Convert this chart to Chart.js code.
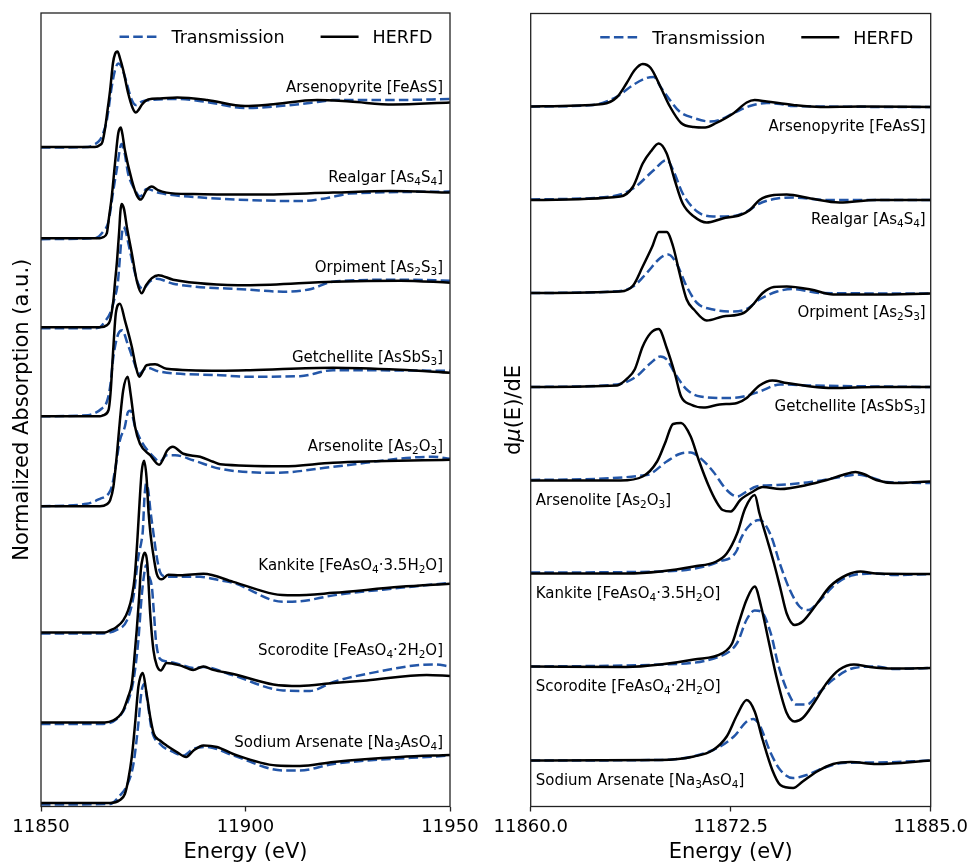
<!DOCTYPE html>
<html><head><meta charset="utf-8">
<script src="https://cdn.jsdelivr.net/npm/chart.js@4/dist/chart.umd.min.js"></script>
<style>
html,body{margin:0;padding:0;background:#fff;overflow:hidden;width:969px;height:865px;}
#left{position:absolute;left:0;top:0;}
#right{position:absolute;left:450px;top:0;}
</style></head><body>
<canvas id="left" width="490" height="865"></canvas>
<canvas id="right" width="530" height="865"></canvas>
<script>
// ---------------- DATA ----------------
const mineralNames = ['Arsenopyrite [FeAsS]','Realgar [As₄S₄]','Orpiment [As₂S₃]','Getchellite [AsSbS₃]','Arsenolite [As₂O₃]','Kankite [FeAsO₄·3.5H₂O]','Scorodite [FeAsO₄·2H₂O]','Sodium Arsenate [Na₃AsO₄]'];
const seriesNames = ['Transmission','HERFD'];
const xanesTicks = [11850, 11900, 11950];
const derivTicks = [11860.0, 11872.5, 11885.0];
// vertical stacking offsets (a.u.)
const xanesOffsets = [13.18, 11.36, 9.58, 7.80, 6.00, 3.48, 1.68, 0.07];
const derivOffsets = [14.00, 12.13, 10.27, 8.39, 6.52, 4.65, 2.79, 0.92];

// Normalized absorption [energy eV, value]
const herfdArsenopyrite = [[11850,0],[11863.2,0],[11864.4,0.04],[11865.0,0.10],[11865.6,0.34],[11866.2,0.70],[11866.9,1.14],[11867.6,1.68],[11868.1,1.86],[11868.7,1.91],[11869.3,1.78],[11870.1,1.54],[11871.3,1.08],[11872.4,0.78],[11873.2,0.69],[11874.0,0.76],[11874.6,0.84],[11876.2,0.95],[11879.1,0.97],[11883.3,0.99],[11890.6,0.94],[11899.9,0.82],[11906,0.85],[11917.5,0.94],[11925.5,0.91],[11936.1,0.85],[11950,0.89]];
const transArsenopyrite = [[11850,-0.01],[11861.5,0],[11862.8,0.04],[11864.4,0.14],[11865.2,0.28],[11866.1,0.54],[11867.3,1.21],[11868.1,1.54],[11868.9,1.67],[11869.6,1.62],[11870.5,1.41],[11872.2,0.94],[11873.2,0.84],[11874.6,0.91],[11876.7,0.94],[11883.3,0.96],[11890.6,0.90],[11899.9,0.78],[11908.4,0.82],[11917.5,0.90],[11921.4,0.94],[11936.1,0.94],[11950,0.96]];
const herfdRealgar = [[11850,0],[11864.4,0],[11865.2,0.02],[11866.1,0.10],[11866.6,0.40],[11867.3,0.83],[11868.1,1.50],[11868.9,2.10],[11869.5,2.21],[11869.9,2.08],[11870.5,1.76],[11872.2,1.16],[11873.4,0.86],[11874.4,0.77],[11875.8,0.96],[11877.1,1.03],[11878.6,0.96],[11880.7,0.91],[11887.2,0.88],[11901.1,0.87],[11921.4,0.91],[11935.3,0.94],[11950,0.91]];
const transRealgar = [[11850,-0.02],[11863.2,0],[11865.2,0.13],[11866.5,0.33],[11867.7,0.96],[11868.5,1.36],[11869.7,1.88],[11870.4,1.72],[11871.3,1.29],[11873.0,0.96],[11874.2,0.83],[11875.8,0.98],[11879.1,0.90],[11891.3,0.80],[11901.1,0.76],[11913.3,0.74],[11919.9,0.80],[11925.5,0.89],[11950,0.93]];
const herfdOrpiment = [[11850,0],[11864.4,0],[11866.1,0.04],[11866.9,0.14],[11867.7,0.54],[11868.1,0.90],[11868.6,1.34],[11869.1,1.90],[11869.4,2.30],[11869.7,2.46],[11870.3,2.36],[11871.0,2.00],[11872.2,1.48],[11873.5,0.90],[11874.6,0.68],[11875.7,0.84],[11877.1,0.98],[11878.7,1.04],[11882.3,0.95],[11901.1,0.84],[11921.4,0.91],[11937.8,0.93],[11950,0.89]];
const transOrpiment = [[11850,-0.02],[11863.2,-0.02],[11864.4,0],[11865.6,0.11],[11866.9,0.28],[11867.9,0.55],[11868.8,0.90],[11869.3,1.40],[11869.7,1.80],[11870.1,2.00],[11870.6,1.95],[11871.3,1.70],[11872.6,1.21],[11873.7,0.88],[11874.9,0.77],[11876.7,0.92],[11878.3,0.97],[11882.3,0.87],[11901.1,0.75],[11909.2,0.71],[11915.8,0.76],[11921.4,0.91],[11937.8,0.95],[11950,0.93]];
const herfdGetchellite = [[11850,0],[11864.4,0],[11865.2,0.02],[11866.5,0.12],[11867.0,0.46],[11867.7,1.39],[11868.3,2.06],[11869.3,2.25],[11870.5,1.92],[11872.2,1.39],[11873.2,0.99],[11874.0,0.79],[11874.9,0.90],[11875.8,1.02],[11877.9,1.04],[11880.7,0.95],[11893.8,0.91],[11901.1,0.92],[11921.4,0.97],[11937.8,0.93],[11950,0.87]];
const transGetchellite = [[11850,0],[11861.5,0.02],[11862.8,0.05],[11864.8,0.15],[11866.1,0.29],[11866.9,0.59],[11867.7,1.19],[11868.9,1.65],[11869.9,1.72],[11871.0,1.49],[11872.6,1.12],[11874.0,0.85],[11875.8,0.97],[11879.1,0.89],[11893.8,0.82],[11901.1,0.79],[11913.3,0.80],[11921.4,0.92],[11950,0.91]];
const herfdArsenolite = [[11850,0],[11864.4,0],[11866.1,0.04],[11866.9,0.12],[11867.7,0.39],[11868.5,0.99],[11869.3,1.72],[11870.1,2.32],[11871.2,2.59],[11871.9,2.25],[11873.0,1.59],[11874.2,1.25],[11876.7,1.02],[11878.9,0.83],[11880.9,1.12],[11882.2,1.19],[11884.8,1.05],[11888.9,0.99],[11892.1,0.89],[11893.8,0.84],[11909.2,0.80],[11921.4,0.87],[11950,0.93]];
const transArsenolite = [[11850,0],[11861.2,0.05],[11864.4,0.15],[11866.5,0.25],[11867.3,0.39],[11868.1,0.72],[11869.3,1.32],[11870.5,1.59],[11871.3,1.89],[11871.9,1.91],[11873.0,1.59],[11874.6,1.29],[11877.5,0.99],[11879.1,0.89],[11880.7,1.02],[11882.8,1.02],[11887.2,0.92],[11893.8,0.75],[11907.6,0.67],[11921.4,0.79],[11945.8,0.99],[11950,0.95]];
const herfdKankite = [[11850,0],[11865.6,0],[11866.9,0.04],[11868.5,0.11],[11870.1,0.24],[11871.3,0.44],[11872.2,0.71],[11872.9,1.10],[11873.6,1.90],[11874.1,2.60],[11874.6,3.20],[11875.2,3.43],[11875.8,3.10],[11876.3,2.40],[11876.8,1.95],[11877.3,1.64],[11878.3,1.17],[11879.5,1.06],[11881.1,1.15],[11884.0,1.14],[11889.7,1.17],[11897.0,1.01],[11906.8,0.77],[11911.7,0.74],[11921.5,0.79],[11937.8,0.91],[11950,0.97]];
const transKankite = [[11850,-0.02],[11864.4,-0.02],[11868.5,0.05],[11871.0,0.24],[11872.6,0.71],[11873.8,1.51],[11874.6,1.84],[11874.9,2.04],[11875.3,2.70],[11875.7,2.97],[11876.2,2.85],[11876.8,2.40],[11877.4,2.04],[11878.3,1.51],[11879.1,1.21],[11880.3,1.12],[11882.3,1.11],[11888.9,1.11],[11893.8,1.04],[11897.0,0.99],[11909.2,0.61],[11913.3,0.62],[11921.5,0.74],[11937.8,0.89],[11950,0.99]];
const herfdScorodite = [[11850,0],[11865.6,0],[11867.7,0.04],[11868.9,0.11],[11870.1,0.24],[11871.3,0.51],[11872.2,0.77],[11872.7,1.17],[11873.4,1.84],[11874.0,2.51],[11874.4,3.04],[11874.9,3.30],[11875.4,3.39],[11876.0,3.17],[11876.7,2.17],[11877.5,1.44],[11878.3,1.14],[11879.3,1.04],[11880.7,1.19],[11884.0,1.14],[11887.2,1.05],[11889.7,1.12],[11892.1,1.05],[11897.0,0.97],[11906.8,0.76],[11913.3,0.73],[11921.5,0.79],[11929.6,0.84],[11944.3,0.95],[11950,0.93]];
const transScorodite = [[11850,-0.03],[11864.4,-0.03],[11868.5,0.07],[11871.0,0.37],[11872.6,0.84],[11873.8,1.64],[11874.6,2.51],[11875.2,2.95],[11875.7,3.14],[11876.3,2.95],[11877.1,2.71],[11877.6,2.20],[11878.1,1.64],[11879.1,1.27],[11880.7,1.22],[11884.0,1.16],[11887.2,1.09],[11889.7,1.11],[11897.0,0.94],[11909.2,0.64],[11915.8,0.63],[11921.5,0.81],[11929.6,0.97],[11945.9,1.16],[11950,1.12]];
const herfdSodiumArsenate = [[11850,0],[11866.9,0],[11869.3,0.06],[11870.5,0.18],[11871.3,0.45],[11872.2,0.92],[11873.0,1.58],[11873.8,2.32],[11874.3,2.52],[11874.9,2.60],[11875.7,2.25],[11876.7,1.72],[11877.6,1.38],[11879.1,1.25],[11880.7,1.15],[11883.0,1.03],[11885.5,0.92],[11887.3,1.05],[11889.7,1.15],[11893.0,1.12],[11897.0,0.98],[11907.6,0.75],[11913.3,0.74],[11921.5,0.82],[11937.8,0.92],[11950,0.96]];
const transSodiumArsenate = [[11850,-0.03],[11866.9,-0.02],[11869.3,0.15],[11871.0,0.35],[11872.6,0.78],[11873.8,1.58],[11874.5,2.18],[11875.2,2.38],[11876.0,2.05],[11877.1,1.45],[11879.1,1.18],[11882.3,1.02],[11884.8,0.95],[11887.2,1.08],[11890.5,1.12],[11897.0,0.95],[11909.2,0.65],[11913.3,0.65],[11921.5,0.78],[11950,0.95]];

// First derivative dmu/dE [energy eV, value]
const dHerfdArsenopyrite = [[11860,0],[11864.5,0.05],[11865.4,0.19],[11866.0,0.47],[11866.5,0.73],[11867.0,0.85],[11867.5,0.77],[11868.1,0.40],[11868.7,0],[11869.4,-0.33],[11870.2,-0.41],[11870.9,-0.42],[11871.6,-0.33],[11872.7,-0.13],[11873.5,0.08],[11874.0,0.13],[11874.75,0.10],[11876.4,0.03],[11878.1,-0.01],[11880.6,0],[11885,-0.01]];
const dTransArsenopyrite = [[11860,0],[11863.9,0.03],[11865.4,0.20],[11866.4,0.43],[11867.25,0.57],[11867.7,0.59],[11868.1,0.40],[11868.7,0.13],[11869.3,-0.10],[11870.2,-0.23],[11871.2,-0.30],[11871.8,-0.27],[11872.7,-0.13],[11873.7,0.01],[11874.75,0.07],[11875.6,0.05],[11876.4,0.01],[11885,-0.01]];
const dHerfdRealgar = [[11860,0],[11865.6,0.07],[11866.4,0.27],[11867.0,0.73],[11867.5,0.97],[11868.0,1.13],[11868.5,0.93],[11869.0,0.40],[11869.5,-0.07],[11870.2,-0.33],[11871.0,-0.45],[11872.0,-0.37],[11873.1,-0.30],[11873.7,-0.20],[11874.3,0],[11875.2,0.10],[11876.0,0.11],[11877.5,0.03],[11879.3,-0.05],[11881.6,0],[11885,0]];
const dTransRealgar = [[11860,0.01],[11865.0,0.07],[11866.4,0.23],[11867.7,0.60],[11868.5,0.80],[11868.9,0.60],[11869.5,0.13],[11870.4,-0.23],[11871.4,-0.33],[11872.7,-0.32],[11873.5,-0.23],[11874.3,-0.07],[11875.4,0.03],[11876.4,0.05],[11878.5,0],[11885,0]];
const dHerfdOrpiment = [[11860,0],[11865.6,0.03],[11866.4,0.15],[11867.0,0.53],[11867.6,0.93],[11868.0,1.22],[11868.5,1.22],[11868.9,0.93],[11869.3,0.40],[11869.75,-0.13],[11870.2,-0.33],[11871.0,-0.55],[11872.0,-0.47],[11873.3,-0.40],[11873.9,-0.23],[11874.5,0],[11875.2,0.12],[11876.0,0.13],[11877.5,0.07],[11878.9,-0.03],[11881.6,-0.03],[11885,-0.01]];
const dTransOrpiment = [[11860,0],[11865.2,0.03],[11866.4,0.13],[11867.25,0.40],[11868.1,0.70],[11868.6,0.77],[11869.1,0.60],[11869.75,0.13],[11870.4,-0.20],[11871.4,-0.33],[11872.7,-0.37],[11873.5,-0.32],[11874.3,-0.13],[11875.4,0.03],[11876.4,0.08],[11878.1,0],[11885,-0.01]];
const dHerfdGetchellite = [[11860,0],[11865.4,0.03],[11866.0,0.16],[11866.5,0.35],[11867.0,0.81],[11867.5,1.08],[11868.0,1.16],[11868.5,0.78],[11869.0,0.28],[11869.4,-0.19],[11870.0,-0.35],[11870.8,-0.41],[11871.8,-0.35],[11872.9,-0.32],[11873.5,-0.22],[11874.3,0.03],[11875.1,0.13],[11876.0,0.08],[11877.5,0.01],[11878.9,-0.02],[11881.6,0],[11885,0]];
const dTransGetchellite = [[11860,0],[11865.4,0.05],[11866.6,0.21],[11867.5,0.48],[11868.1,0.61],[11868.5,0.55],[11869.0,0.28],[11869.75,-0.05],[11870.6,-0.19],[11872.25,-0.22],[11873.3,-0.19],[11874.3,-0.09],[11875.6,0.05],[11877.5,0.03],[11885,0]];
const dHerfdArsenolite = [[11860,0],[11865.6,0],[11867.0,0.08],[11867.9,0.38],[11868.4,0.75],[11868.9,1.13],[11869.4,1.15],[11870.0,0.88],[11870.5,0.41],[11871.1,-0.09],[11871.6,-0.42],[11872.0,-0.59],[11872.5,-0.62],[11873.1,-0.39],[11873.9,-0.22],[11874.5,-0.13],[11875.6,-0.17],[11877.25,-0.09],[11878.5,0.01],[11879.5,0.11],[11880.3,0.17],[11880.8,0.13],[11881.6,0.01],[11882.7,-0.05],[11883.7,-0.04],[11885,-0.02]];
const dTransArsenolite = [[11860,0.01],[11867.25,0.11],[11868.5,0.38],[11869.3,0.53],[11870.0,0.56],[11870.6,0.45],[11871.4,0.18],[11872.25,-0.19],[11872.9,-0.32],[11873.5,-0.22],[11874.1,-0.12],[11875.4,-0.09],[11877.5,-0.03],[11879.5,0.08],[11880.4,0.12],[11881.2,0.07],[11882.25,-0.03],[11885,-0.05]];
const dHerfdKankite = [[11860,0.01],[11866.0,0.01],[11868.1,0.05],[11870.2,0.15],[11871.6,0.25],[11872.25,0.41],[11872.9,0.81],[11873.4,1.31],[11874.0,1.58],[11874.3,1.21],[11874.75,0.72],[11875.2,0.22],[11875.6,-0.28],[11876.0,-0.79],[11876.5,-1.02],[11877.0,-0.95],[11877.9,-0.59],[11878.7,-0.25],[11879.75,-0.02],[11880.6,0.05],[11881.6,0.01],[11885,0]];
const dTransKankite = [[11860,0.03],[11868.1,0.05],[11871.8,0.25],[11872.9,0.48],[11873.1,0.68],[11873.7,0.98],[11874.3,1.08],[11875.0,0.78],[11875.6,0.18],[11876.2,-0.32],[11876.8,-0.65],[11877.35,-0.72],[11878.1,-0.52],[11879.1,-0.19],[11880.2,-0.02],[11881.6,0.01],[11882.7,-0.02],[11885,0]];
const dHerfdScorodite = [[11860,0.01],[11866.0,0],[11868.1,0.05],[11870.2,0.15],[11872.0,0.28],[11872.6,0.48],[11873.0,0.88],[11873.5,1.35],[11874.0,1.61],[11874.4,1.21],[11874.85,0.55],[11875.4,-0.25],[11876.0,-0.92],[11876.5,-1.09],[11877.0,-1.02],[11877.7,-0.72],[11878.5,-0.32],[11879.3,-0.05],[11880.2,0.05],[11881.2,0],[11882.7,-0.03],[11885,-0.02]];
const dTransScorodite = [[11860,0.01],[11868.1,0.05],[11871.8,0.21],[11872.9,0.48],[11873.5,0.95],[11874.0,1.13],[11874.4,1.11],[11875.0,0.68],[11875.5,0.01],[11876.1,-0.52],[11876.6,-0.75],[11877.25,-0.75],[11878.1,-0.49],[11878.9,-0.25],[11880.2,-0.02],[11881.6,0.01],[11882.7,-0.04],[11885,-0.02]];
const dHerfdSodiumArsenate = [[11860,0],[11868.1,0.01],[11870.2,0.08],[11871.4,0.21],[11872.25,0.48],[11872.9,0.91],[11873.5,1.21],[11874.0,0.98],[11874.5,0.41],[11875.1,-0.19],[11875.6,-0.49],[11876.4,-0.55],[11877.0,-0.42],[11877.9,-0.22],[11878.9,-0.07],[11880.0,-0.03],[11881.6,-0.07],[11885,0]];
const dTransSodiumArsenate = [[11860,0],[11868.1,0.01],[11871.4,0.21],[11872.7,0.48],[11873.5,0.78],[11873.9,0.83],[11874.3,0.71],[11875.0,0.15],[11875.6,-0.19],[11876.4,-0.35],[11877.25,-0.29],[11878.3,-0.15],[11879.5,-0.05],[11881.6,-0.04],[11885,0]];

const xanesHerfd = [herfdArsenopyrite, herfdRealgar, herfdOrpiment, herfdGetchellite, herfdArsenolite, herfdKankite, herfdScorodite, herfdSodiumArsenate];
const xanesTrans = [transArsenopyrite, transRealgar, transOrpiment, transGetchellite, transArsenolite, transKankite, transScorodite, transSodiumArsenate];
const derivHerfd = [dHerfdArsenopyrite, dHerfdRealgar, dHerfdOrpiment, dHerfdGetchellite, dHerfdArsenolite, dHerfdKankite, dHerfdScorodite, dHerfdSodiumArsenate];
const derivTrans = [dTransArsenopyrite, dTransRealgar, dTransOrpiment, dTransGetchellite, dTransArsenolite, dTransKankite, dTransScorodite, dTransSodiumArsenate];

// ---------------- STYLE ----------------
const BLUE = '#2356a8';
const FAM = '"DejaVu Sans", sans-serif';
const DASH = [9.5, 4.2];
const LW = 2.5;
const xanesLabelLift = [61, 62, 61, 60, 61, 68, 73, 61.5]; // px above baseline
const derivLabelDrop = 18.7; // px below baseline
const derivLabelAlign = ['right','right','right','right','left','left','left','left'];

Chart.defaults.font.family = FAM;
Chart.defaults.color = '#000';

function toPoints(arr, off) { return arr.map(p => ({x: p[0], y: p[1] + off})); }
function makeDatasets(herfd, trans, offsets) {
  const ds = [];
  herfd.forEach((h, i) => {
    ds.push({label: seriesNames[1], data: toPoints(h, offsets[i]), borderColor: '#000', borderWidth: LW,
      pointRadius: 0, cubicInterpolationMode: 'monotone', order: 0, borderJoinStyle: 'round', fill: false});
    ds.push({label: seriesNames[0], data: toPoints(trans[i], offsets[i]), borderColor: BLUE, borderWidth: LW,
      borderDash: DASH, pointRadius: 0, cubicInterpolationMode: 'monotone', order: 1, fill: false});
  });
  return ds;
}

const SUB = {'₀':'0','₁':'1','₂':'2','₃':'3','₄':'4','₅':'5','₆':'6','₇':'7','₈':'8','₉':'9'};
function drawRich(ctx, text, x, cy, align, size) {
  const runs = [];
  for (const ch of text) {
    const sub = SUB[ch] !== undefined;
    const c = sub ? SUB[ch] : ch;
    if (runs.length && runs[runs.length - 1].sub === sub) runs[runs.length - 1].t += c;
    else runs.push({t: c, sub});
  }
  const normal = size + 'px ' + FAM, small = (size * 0.7) + 'px ' + FAM;
  let total = 0;
  for (const r of runs) { ctx.font = r.sub ? small : normal; r.w = ctx.measureText(r.t).width; total += r.w; }
  let cx = align === 'right' ? x - total : x;
  const base = cy + 0.365 * size;
  ctx.textAlign = 'left'; ctx.textBaseline = 'alphabetic'; ctx.fillStyle = '#000';
  for (const r of runs) {
    ctx.font = r.sub ? small : normal;
    ctx.fillText(r.t, cx, r.sub ? base + size * 0.2 : base);
    cx += r.w;
  }
}

function drawFrame(chart) {
  const ctx = chart.ctx, a = chart.chartArea;
  ctx.save();
  ctx.strokeStyle = '#222'; ctx.lineWidth = 1.3;
  ctx.strokeRect(a.left, a.top, a.right - a.left, a.bottom - a.top);
  ctx.restore();
}

function drawLegend(chart) {
  const ctx = chart.ctx, a = chart.chartArea;
  const fs = 17.5, y = a.top + 23.7;
  ctx.save();
  ctx.font = fs + 'px ' + FAM;
  const wH = ctx.measureText(seriesNames[1]).width, wT = ctx.measureText(seriesNames[0]).width;
  const handle = 38, pad = 14, gap = 36;
  const xHText = a.right - 17.5 - wH;
  const xHEnd = xHText - pad, xHStart = xHEnd - handle;
  const xTText = xHStart - gap - wT;
  const xTEnd = xTText - pad, xTStart = xTEnd - handle;
  ctx.lineWidth = LW;
  ctx.strokeStyle = BLUE; ctx.setLineDash(DASH);
  ctx.beginPath(); ctx.moveTo(xTStart, y); ctx.lineTo(xTEnd, y); ctx.stroke();
  ctx.setLineDash([]); ctx.strokeStyle = '#000';
  ctx.beginPath(); ctx.moveTo(xHStart, y); ctx.lineTo(xHEnd, y); ctx.stroke();
  ctx.fillStyle = '#000'; ctx.textBaseline = 'alphabetic'; ctx.textAlign = 'left';
  ctx.fillText(seriesNames[0], xTText, y + 0.365 * fs);
  ctx.fillText(seriesNames[1], xHText, y + 0.365 * fs);
  ctx.restore();
}

const leftDecor = {
  id: 'leftDecor',
  afterDraw(chart) {
    const ctx = chart.ctx, a = chart.chartArea, ys = chart.scales.y;
    drawFrame(chart);
    drawLegend(chart);
    ctx.save();
    mineralNames.forEach((n, i) => {
      const y0 = ys.getPixelForValue(xanesOffsets[i]);
      drawRich(ctx, n, a.right - 7, y0 - xanesLabelLift[i], 'right', 15);
    });
    ctx.restore();
  }
};

const rightDecor = {
  id: 'rightDecor',
  afterDraw(chart) {
    const ctx = chart.ctx, a = chart.chartArea, ys = chart.scales.y;
    drawFrame(chart);
    drawLegend(chart);
    ctx.save();
    mineralNames.forEach((n, i) => {
      const y0 = ys.getPixelForValue(derivOffsets[i]);
      const al = derivLabelAlign[i];
      drawRich(ctx, n, al === 'right' ? a.right - 5 : a.left + 5, y0 + derivLabelDrop, al, 15);
    });
    // y-axis title with italic mu
    const fs = 21;
    const parts = [{t: 'd', f: fs + 'px ' + FAM}, {t: 'μ', f: 'italic ' + fs + 'px ' + FAM}, {t: '(E)/dE', f: fs + 'px ' + FAM}];
    let tot = 0;
    parts.forEach(p => { ctx.font = p.f; p.w = ctx.measureText(p.t).width; tot += p.w; });
    ctx.translate(a.left - 18.7, (a.top + a.bottom) / 2);
    ctx.rotate(-Math.PI / 2);
    ctx.fillStyle = '#000'; ctx.textBaseline = 'alphabetic'; ctx.textAlign = 'left';
    let x = -tot / 2;
    parts.forEach(p => { ctx.font = p.f; ctx.fillText(p.t, x, 0.365 * fs); x += p.w; });
    ctx.restore();
  }
};

function xScale(min, max, ticks, fmt, title) {
  return {
    type: 'linear', min, max,
    afterBuildTicks: s => { s.ticks = ticks.map(v => ({value: v})); },
    ticks: { font: {size: 18}, color: '#000', padding: 5, maxRotation: 0, autoSkip: false, callback: fmt },
    grid: { display: true, drawOnChartArea: false, drawTicks: true, tickLength: 5, tickWidth: 1.3, tickColor: '#222' },
    border: { display: false },
    title: { display: true, text: title, font: {size: 21}, color: '#000', padding: {top: 0, bottom: 0} },
    afterFit: s => { s.height = 58.5; }
  };
}

new Chart(document.getElementById('left'), {
  type: 'line',
  data: { datasets: makeDatasets(xanesHerfd, xanesTrans, xanesOffsets) },
  options: {
    responsive: false, animation: false, parsing: false, normalized: true,
    layout: { padding: {top: 13, right: 40, bottom: 0, left: 0} },
    plugins: { legend: {display: false}, tooltip: {enabled: false} },
    scales: {
      x: xScale(11850, 11950, xanesTicks, v => String(v), 'Energy (eV)'),
      y: {
        type: 'linear', min: 0, max: 15.86,
        ticks: { display: false }, grid: { display: false }, border: { display: false },
        title: { display: true, text: 'Normalized Absorption (a.u.)', font: {size: 21}, color: '#000', padding: {top: 10, bottom: 0} },
        afterFit: s => { s.width = 41; }
      }
    }
  },
  plugins: [leftDecor]
});

new Chart(document.getElementById('right'), {
  type: 'line',
  data: { datasets: makeDatasets(derivHerfd, derivTrans, derivOffsets) },
  options: {
    responsive: false, animation: false, parsing: false, normalized: true,
    layout: { padding: {top: 13.5, right: 49.3, bottom: 0, left: 0} },
    plugins: { legend: {display: false}, tooltip: {enabled: false} },
    scales: {
      x: xScale(11860, 11885, derivTicks, v => Number(v).toFixed(1), 'Energy (eV)'),
      y: {
        type: 'linear', min: 0, max: 15.86,
        ticks: { display: false }, grid: { display: false }, border: { display: false },
        title: { display: false },
        afterFit: s => { s.width = 80.7; }
      }
    }
  },
  plugins: [rightDecor]
});
</script>
</body></html>
